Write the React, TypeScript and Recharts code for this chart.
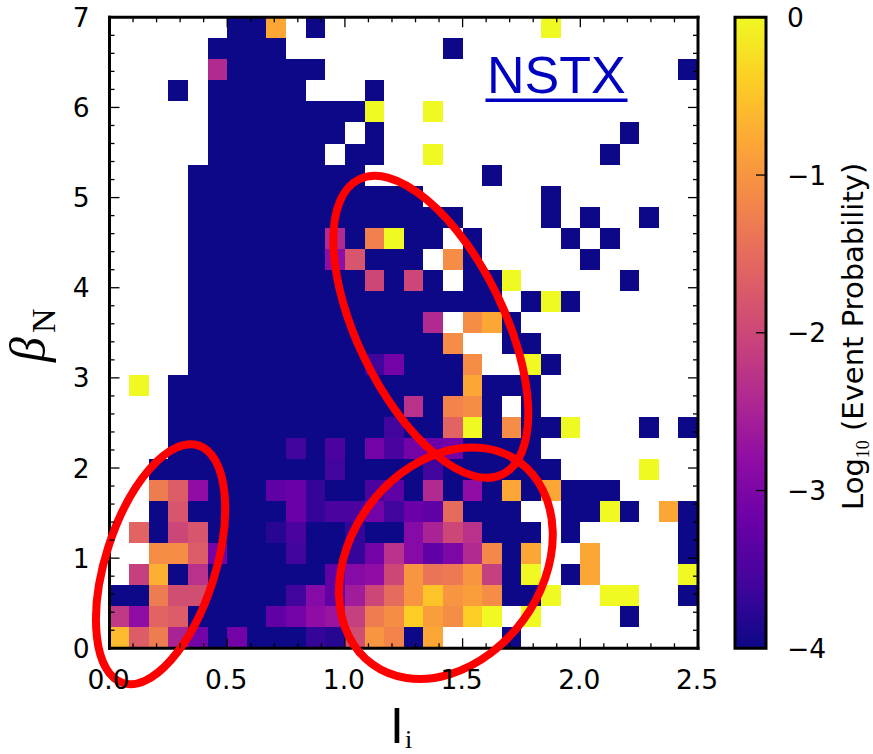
import { ScatterChart, Scatter, XAxis, YAxis, BarChart, Bar } from "recharts";

const W = 873;
const H = 754;

// plot box in pixels
const PLOT_LEFT = 109.5;
const PLOT_RIGHT = 698;
const PLOT_TOP = 17.3;
const PLOT_BOTTOM = 648.3;

const _ = null;
const B = -4;

// log10 event probability, top row first, 30 columns (l_i 0 -> 2.5)
const rows: (number | null)[][] = [
	[_,_,_,_,_, _,B,B,-0.8,_, B,_,_,_,_, _,_,_,_,_, _,_,0,_,_, _,_,_,_,_],
	[_,_,_,_,_, B,B,B,B,_, _,_,_,_,_, _,_,B,_,_, _,_,_,_,_, _,_,_,_,_],
	[_,_,_,_,_, -2.4,B,B,B,B, B,_,_,_,_, _,_,_,_,_, _,_,_,_,_, _,_,_,_,B],
	[_,_,_,B,_, B,B,B,B,B, _,_,_,B,_, _,_,_,_,_, _,_,_,_,_, _,_,_,_,_],
	[_,_,_,_,_, B,B,B,B,B, B,B,B,0,_, _,0,_,_,_, _,_,_,_,_, _,_,_,_,_],
	[_,_,_,_,_, B,B,B,B,B, B,B,_,B,_, _,_,_,_,_, _,_,_,_,_, _,B,_,_,_],
	[_,_,_,_,_, B,B,B,B,B, B,_,B,B,_, _,0,_,_,_, _,_,_,_,_, B,_,_,_,_],
	[_,_,_,_,B, B,B,B,B,B, B,B,B,_,_, _,_,_,_,B, _,_,_,_,_, _,_,_,_,_],
	[_,_,_,_,B, B,B,B,B,B, B,B,B,B,B, B,_,_,_,_, _,_,B,_,_, _,_,_,_,_],
	[_,_,_,_,B, B,B,B,B,B, B,B,B,B,B, B,B,B,_,_, _,_,B,_,B, _,_,B,_,_],
	[_,_,_,_,B, B,B,B,B,B, B,-2.4,B,-1.25,0, B,B,_,B,_, _,_,_,B,_, B,_,_,_,_],
	[_,_,_,_,B, B,B,B,B,B, B,-2.8,-1.8,B,B, B,_,-1.1,B,_, _,_,_,_,B, _,_,_,_,_],
	[_,_,_,_,B, B,B,B,B,B, B,B,B,-2,B, -2,B,_,B,B, 0,_,_,_,_, _,B,_,_,_],
	[_,_,_,_,B, B,B,B,B,B, B,B,B,B,B, B,B,B,B,B, _,B,0,B,_, _,_,_,_,_],
	[_,_,_,_,B, B,B,B,B,B, B,B,B,B,B, B,-2.4,_,-1.1,-0.8, B,_,_,_,_, _,_,_,_,_],
	[_,_,_,_,B, B,B,B,B,B, B,B,B,B,B, B,B,-1.1,_,_, B,B,_,_,_, _,_,_,_,_],
	[_,_,_,_,B, B,B,B,B,B, B,B,B,-3.6,-3.1, B,B,B,-1.1,_, _,0,B,_,_, _,_,_,_,_],
	[_,0,_,B,B, B,B,B,B,B, B,B,B,B,B, B,B,B,-0.8,B, B,B,_,_,_, _,_,_,_,_],
	[_,_,_,B,B, B,B,B,B,B, B,B,B,B,B, -2.3,B,-1.2,-1.1,B, _,B,_,_,_, _,_,_,_,_],
	[_,_,_,B,B, B,B,B,B,B, B,B,B,B,-3.6, B,B,-1.6,0,B, -1.1,B,B,0,_, _,_,B,_,B],
	[_,_,_,B,B, B,B,B,B,-3.6, B,-3.5,B,-3.1,-3.5, -3.1,-3.2,-3.1,B,B, B,B,_,_,_, _,_,_,_,_],
	[_,_,B,B,B, B,B,B,B,B, B,-3.6,B,B,B, B,-3.6,B,B,B, B,B,B,_,_, _,_,0,_,_],
	[_,_,-1.3,-1.7,-2.8, B,B,B,-3.3,-3.2, -3.7,B,B,-3.5,-3.3, B,-2.4,B,-2.8,B, -0.8,B,-0.8,B,B, B,_,_,_,_],
	[_,_,B,-1.8,B, B,B,B,B,-3.2, -3.7,-3.5,-3.5,-3.1,-3.6, -3.2,-3.3,-1.5,B,B, B,_,_,B,B, 0,B,_,-0.8,B],
	[_,-1.6,B,-2,-1.8, B,B,B,-3.8,-3.5, B,B,-3.7,B,B, -2.9,-2.5,-2,-2.3,B, B,B,_,B,_, _,_,_,_,B],
	[_,_,-1.1,-1.1,-1.7, -3.1,B,B,B,-3.6, B,B,-3.7,-3.1,-2.3, -2.9,-3.3,-3,-2.4,-1.15, B,-0.8,_,_,-0.8, _,_,_,_,B],
	[_,-2.1,-0.7,B,-2.3, B,B,B,B,B, B,-3.3,-2.9,-2.8,-2, -1,-1.4,-1.35,-1,-2.1, B,0,_,B,-0.8, _,_,_,_,0],
	[B,B,-1.3,-1.9,-1.9, B,B,B,B,-3.6, -2.9,-3.3,-2.6,-2,-1.5, -1,-0.5,-1,-0.9,-1.1, B,B,0,_,_, 0,0,_,_,B],
	[-2.2,-2.8,-1.6,-1.7,B, B,B,B,-3.3,-3.1, -2.8,-2.7,-2.1,-1.3,-1.1, -0.4,-0.9,-1.1,-0.4,0, _,0,_,_,_, _,B,_,_,_],
	[-0.6,-1.7,-1.3,-2.5,-3.1, B,-3.1,B,B,B, -3.7,-3.8,-1.9,-1,-1.2, B,-0.8,_,_,_, B,_,_,_,_, _,_,_,_,_],
];

const xMajor = [0, 0.5, 1, 1.5, 2, 2.5];
const xTicks = [0, 0.1, 0.2, 0.3, 0.4, 0.5, 0.6, 0.7, 0.8, 0.9, 1, 1.1, 1.2, 1.3, 1.4, 1.5, 1.6, 1.7, 1.8, 1.9, 2, 2.1, 2.2, 2.3, 2.4, 2.5];
const yMajor = [0, 1, 2, 3, 4, 5, 6, 7];
const yTicks = [0, 0.2, 0.4, 0.6, 0.8, 1, 1.2, 1.4, 1.6, 1.8, 2, 2.2, 2.4, 2.6, 2.8, 3, 3.2, 3.4, 3.6, 3.8, 4, 4.2, 4.4, 4.6, 4.8, 5, 5.2, 5.4, 5.6, 5.8, 6, 6.2, 6.4, 6.6, 6.8, 7];
const barTicks = [-4, -3, -2, -1, 0];

// red hand-drawn rings, centre in data units
const ringX = [0.217, 1.365, 1.429];
const ringY = [0.933, 3.567, 0.944];
const ringRx = [55, 73.5, 96];
const ringRy = [124.7, 164, 125];
const ringAngle = [17.6, -25.9, 36];

const plasma = ["#0d0887", "#41049d", "#6a00a8", "#8f0da4", "#b12a90", "#cc4778", "#e16462", "#f2844b", "#fca636", "#fcce25", "#f0f921"];

const COLS = rows[0].length;
const ROWS = rows.length;
const xMax = 2.5;
const yMax = 7;
const cellW = (PLOT_RIGHT - PLOT_LEFT) / COLS;
const cellH = (PLOT_BOTTOM - PLOT_TOP) / ROWS;

function colorFor(v: number) {
	const t = ((v + 4) / 4) * (plasma.length - 1);
	const i = Math.min(Math.floor(t), plasma.length - 2);
	const f = t - i;
	const a = plasma[i];
	const b = plasma[i + 1];
	const mix = (s: number) => {
		const p = parseInt(a.slice(s, s + 2), 16);
		const q = parseInt(b.slice(s, s + 2), 16);
		return Math.round(p + (q - p) * f);
	};
	return `rgb(${mix(1)},${mix(3)},${mix(5)})`;
}

const cells: { x: number; y: number; log: number }[] = [];
rows.forEach((row, r) => {
	row.forEach((v, c) => {
		if (v === null) return;
		cells.push({ x: ((c + 0.5) * xMax) / COLS, y: yMax - ((r + 0.5) * yMax) / ROWS, log: v });
	});
});

const rings = ringX.map((x, i) => ({ x, y: ringY[i], rx: ringRx[i], ry: ringRy[i], angle: ringAngle[i] }));

const FONT = "DejaVu Sans";
const isIn = (list: number[], v: number) => list.indexOf(v) >= 0;

function CellShape(props: any) {
	return (
		<rect
			x={props.cx - cellW / 2}
			y={props.cy - cellH / 2}
			width={cellW}
			height={cellH}
			fill={colorFor(props.payload.log)}
			shapeRendering="crispEdges"
		/>
	);
}

function RingShape(props: any) {
	const { rx, ry, angle } = props.payload;
	return (
		<ellipse
			cx={props.cx}
			cy={props.cy}
			rx={rx}
			ry={ry}
			fill="none"
			stroke="#ff0000"
			strokeWidth={8}
			transform={`rotate(${angle} ${props.cx} ${props.cy})`}
		/>
	);
}

// each tick also draws its mirror on the opposite side of the box
function BottomTick({ x, y, payload }: any) {
	const major = isIn(xMajor, payload.value);
	const len = major ? 10 : 5;
	return (
		<g>
			<line x1={x} x2={x} y1={y} y2={y - len} stroke="#000" strokeWidth={1.3} />
			<line x1={x} x2={x} y1={PLOT_TOP} y2={PLOT_TOP + len} stroke="#000" strokeWidth={1.3} />
			{major && (
				<text x={x - 1} y={y + 41} textAnchor="middle" fontFamily={FONT} fontSize={26.5} fill="#000" stroke="none">
					{payload.value.toFixed(1)}
				</text>
			)}
		</g>
	);
}

function LeftTick({ x, y, payload }: any) {
	const major = isIn(yMajor, payload.value);
	const len = major ? 10 : 5;
	return (
		<g>
			<line x1={x} x2={x + len} y1={y} y2={y} stroke="#000" strokeWidth={1.3} />
			<line x1={PLOT_RIGHT} x2={PLOT_RIGHT - len} y1={y} y2={y} stroke="#000" strokeWidth={1.3} />
			{major && (
				<text x={x - 20} y={y + 9.5} textAnchor="end" fontFamily={FONT} fontSize={26.5} fill="#000" stroke="none">
					{payload.value}
				</text>
			)}
		</g>
	);
}

function BarTick({ x, y, payload }: any) {
	const v = payload.value;
	const edge = v === 0 || v === -4;
	return (
		<g>
			{!edge && <line x1={x} x2={x - 10} y1={y} y2={y} stroke="#000" strokeWidth={1.3} />}
			<text x={x + 21} y={y + 9.5} fontFamily={FONT} fontSize={26.5} fill="#000">
				{v < 0 ? `\u2212${-v}` : v}
			</text>
		</g>
	);
}

const axisStyle = { stroke: "#000", strokeWidth: 3, strokeLinecap: "square" as const };
const layer = { position: "absolute" as const, left: 0, top: 0 };

// cells sit in their own chart below the frame so the ticks stay visible
function HeatMap() {
	return (
		<ScatterChart
			width={W}
			height={H}
			margin={{ top: PLOT_TOP, right: W - PLOT_RIGHT, left: PLOT_LEFT, bottom: H - PLOT_BOTTOM }}
			style={layer}
		>
			<XAxis dataKey="x" type="number" domain={[0, xMax]} hide />
			<YAxis dataKey="y" type="number" domain={[0, yMax]} hide />
			<Scatter data={cells} isAnimationActive={false} shape={<CellShape />} />
		</ScatterChart>
	);
}

function Frame() {
	return (
		<ScatterChart width={W} height={H} margin={{ top: PLOT_TOP - 1, right: W - PLOT_RIGHT - 1, left: 0, bottom: 0 }} style={layer}>
			<XAxis dataKey="x" type="number" domain={[0, xMax]} ticks={xTicks} interval={0} height={H - PLOT_BOTTOM} tickLine={false} tickSize={0} tickMargin={0} axisLine={axisStyle} {...axisStyle} tick={<BottomTick />} />
			<YAxis dataKey="y" type="number" domain={[0, yMax]} ticks={yTicks} interval={0} width={PLOT_LEFT} tickLine={false} tickSize={0} tickMargin={0} axisLine={axisStyle} {...axisStyle} tick={<LeftTick />} />
			<XAxis xAxisId="top" orientation="top" type="number" domain={[0, xMax]} height={1} tickLine={false} tick={false} axisLine={axisStyle} {...axisStyle} />
			<YAxis yAxisId="right" orientation="right" type="number" domain={[0, yMax]} width={1} tickLine={false} tick={false} axisLine={axisStyle} {...axisStyle} />
			<Scatter data={rings} isAnimationActive={false} shape={<RingShape />} />
			<text x={487} y={93} fontFamily="Liberation Sans" fontSize={52} fill="#0000c0">NSTX</text>
			<rect x={485.5} y={98.5} width={142} height={3.5} fill="#0000c0" />
			<text x={390} y={743} fontFamily="Liberation Sans" fontSize={50} fill="#000">I</text>
			<text x={405} y={748} fontFamily="Liberation Serif" fontSize={26} fill="#000">i</text>
			<text transform="rotate(-90 45 362)" x={45} y={362} fontFamily="Liberation Serif" fontStyle="italic" fontSize={50} fill="#000">β</text>
			<text transform="rotate(-90 55 333)" x={55} y={333} fontFamily="Liberation Serif" fontSize={34} fill="#000">N</text>
		</ScatterChart>
	);
}

function ColorBar() {
	return (
		<BarChart
			width={W}
			height={H}
			data={[{ name: "bar", range: [-4, 0] }]}
			margin={{ top: PLOT_TOP, right: 0, left: 735, bottom: H - PLOT_BOTTOM }}
			barCategoryGap={0}
			style={layer}
		>
			<defs>
				<linearGradient id="plasma" x1="0" y1="1" x2="0" y2="0">
					{plasma.map((c, i) => (
						<stop key={c} offset={i / (plasma.length - 1)} stopColor={c} />
					))}
				</linearGradient>
			</defs>
			<XAxis dataKey="name" hide />
			<YAxis orientation="right" type="number" domain={[-4, 0]} ticks={barTicks} interval={0} width={W - 766} tickLine={false} tickSize={0} tickMargin={0} axisLine={false} tick={<BarTick />} />
			<Bar dataKey="range" fill="url(#plasma)" stroke="#000" strokeWidth={3} isAnimationActive={false} />
			<g transform="rotate(-90 863 510)">
				<text x={863} y={510} fontFamily={FONT} fontSize={29} fill="#000">
					Log
					<tspan fontFamily="Liberation Serif" fontSize={18} dy={6}>10</tspan>
					<tspan dy={-6}> (Event Probability)</tspan>
				</text>
			</g>
		</BarChart>
	);
}

export default function App() {
	return (
		<div style={{ position: "absolute", left: 0, top: 0, width: W, height: H, background: "#fff" }}>
			<ColorBar />
			<HeatMap />
			<Frame />
		</div>
	);
}
